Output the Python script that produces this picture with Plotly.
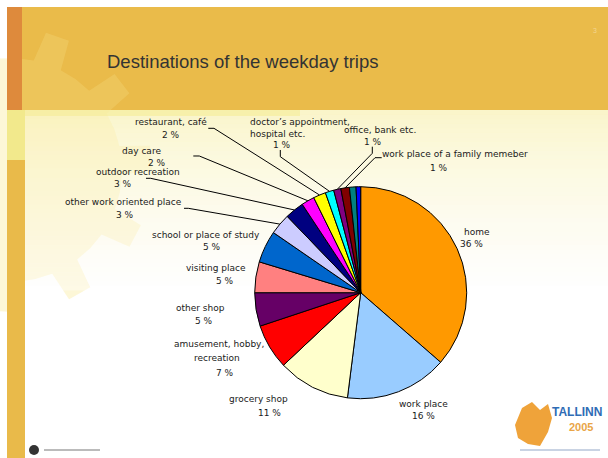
import numpy as np
import plotly.graph_objects as go

W, H = 608, 458

# ---------------- data ----------------
categories = [
    "home", "work place", "grocery shop", "amusement, hobby,\nrecreation",
    "other shop", "visiting place", "school or place of study",
    "other work oriented place", "outdoor recreation", "day care",
    "restaurant, café", "doctor’s appointment,\nhospital etc.",
    "office, bank etc.", "work place of a family memeber",
    "unlabelled a", "unlabelled b",
]
shares = [36.4, 15.6, 11.0, 6.9, 5.1, 4.7, 4.9, 3.2, 2.9, 2.0, 1.9, 1.3, 1.1, 1.3, 1.0, 0.7]
show_label = [True] * 14 + [False, False]
colors = ["#FF9900", "#99CCFF", "#FFFFCC", "#FF0000", "#660066", "#FF8080",
          "#0066CC", "#CCCCFF", "#000080", "#FF00FF", "#FFFF00", "#00FFFF",
          "#800080", "#800000", "#008080", "#0000FF"]
title = "Destinations of the weekday trips"

# ---------------- layout helpers ----------------
def P(x, y):
    return x / W, 1 - y / H

CX, CY, R = 360.7, 292.7, 106.0

total = sum(shares)
pct_text = [f"{round(v / total * 100)} %" for v in shares]

# label line positions: per category, list of (x, y, anchor) for name lines then pct line
label_pos = {
    0: [(477, 231.7, "center"), (471.7, 244, "center")],
    1: [(424, 404, "center"), (424, 416, "center")],
    2: [(258.7, 399.3, "center"), (269, 412.7, "center")],
    3: [(219, 344, "center"), (217, 358, "center"), (225, 372.5, "center")],
    4: [(200, 307.7, "center"), (204, 320.7, "center")],
    5: [(216, 268.3, "center"), (225, 280.5, "center")],
    6: [(206, 235, "center"), (212, 247, "center")],
    7: [(123.7, 202.3, "center"), (125, 214.5, "center")],
    8: [(138, 172.3, "center"), (122.5, 184, "center")],
    9: [(141, 150.7, "center"), (157, 162.5, "center")],
    10: [(171, 122, "center"), (171, 134.5, "center")],
    11: [(248.3, 122.3, "left"), (248.3, 134.3, "left"), (282, 144.8, "center")],
    12: [(380, 130, "center"), (373, 142.5, "center")],
    13: [(455, 154.3, "center"), (439, 167.5, "center")],
}
# leader line start/elbow points (label side)
leader_pts = {
    10: [(208.3, 128.3), (214, 128.3)],
    9: [(193.3, 156), (199.3, 156)],
    8: [(146, 178.3), (150.7, 178.3)],
    7: [(184, 208.3), (188.3, 208.3)],
    11: [(280.3, 150), (280.3, 156.7)],
    12: [(372.3, 146.7), (372.3, 153.3)],
    13: [(381.7, 157.7), (375, 157.7)],
}

fig = go.Figure()
fig.add_trace(go.Pie(
    labels=[c.replace("\n", " ") for c in categories],
    values=shares,
    sort=False,
    direction="clockwise",
    rotation=0,
    marker=dict(colors=colors, line=dict(color="#000000", width=1)),
    textinfo="none",
    hoverinfo="label+percent",
    showlegend=False,
    domain=dict(x=[(CX - R) / W, (CX + R) / W], y=[1 - (CY + R) / H, 1 - (CY - R) / H]),
))

shapes = []
# ---------------- background ----------------
def rect(x0, y0, x1, y1, color, layer="below"):
    a0 = P(x0, y1); a1 = P(x1, y0)
    return dict(type="rect", xref="paper", yref="paper", x0=a0[0], y0=a0[1], x1=a1[0], y1=a1[1],
                fillcolor=color, line=dict(width=0), layer=layer)

# gear watermark geometry
gcx, gcy = 10, 170
pts = []
nteeth = 11
for k in range(nteeth):
    base = 2 * np.pi * k / nteeth + np.radians(19.6)
    half = np.pi / nteeth
    for a, rr in [(-half, 112), (-half * 0.45, 112), (-half * 0.3, 142), (half * 0.3, 142), (half * 0.45, 112), (half, 112)]:
        ang = base + a
        px, py = gcx + rr * np.sin(ang), gcy - rr * np.cos(ang)
        pts.append(P(px, py))
gear_path = "M " + " L ".join(f"{x:.5f},{y:.5f}" for x, y in pts) + " Z"

# body gradient
top_c = np.array([250, 244, 196]); bot_c = np.array([255, 255, 255])
n = 40
y0b, y1b = 110, 290
shapes.append(dict(type="path", xref="paper", yref="paper", path=gear_path,
                   fillcolor="rgba(250,238,170,0.25)", line=dict(width=0), layer="below"))
for i in range(n):
    t = i / (n - 1)
    c = top_c + (bot_c - top_c) * (t ** 0.7)
    ya = y0b + (y1b - y0b) * i / n
    yb = y0b + (y1b - y0b) * (i + 1) / n + 0.5
    shapes.append(rect(7, ya, W, yb, "rgba(%d,%d,%d,0.9)" % tuple(c.astype(int))))
shapes.append(rect(7, 110, 300, 116, "rgba(245,236,150,0.6)"))
# header
shapes.append(rect(7, 7, W, 110, "#EABB4A"))
shapes.append(dict(type="path", xref="paper", yref="paper", path=gear_path,
                   fillcolor="rgba(252,234,150,0.22)", line=dict(width=0), layer="below"))
# left stripes
shapes.append(rect(7, 7, 22, 110, "#DE8A3C"))
shapes.append(rect(7, 110, 25, 160, "#F2E98C"))
shapes.append(rect(7, 160, 25, H, "#E9BA4A"))

# bottom logos
shapes.append(dict(type="circle", xref="paper", yref="paper",
                   x0=P(29, 0)[0], x1=P(39, 0)[0], y0=P(0, 455)[1], y1=P(0, 445)[1],
                   fillcolor="#333333", line=dict(width=0), layer="below"))
shapes.append(rect(44, 449, 100, 451, "#BBBBBB"))
blob = [(515, 425), (522, 408), (532, 402), (540, 410), (548, 404), (552, 418), (548, 432), (540, 446), (528, 444), (518, 438)]
bp = "M " + " L ".join("%.5f,%.5f" % P(x, y) for x, y in blob) + " Z"
shapes.append(dict(type="path", xref="paper", yref="paper", path=bp,
                   fillcolor="#EFA33A", line=dict(width=0), layer="below"))
shapes.append(rect(520, 449, 600, 451, "#C9D3E3"))

# ---------------- leader lines ----------------
cum = 0.0
mids = []
for v in shares:
    mids.append((cum + v / 2) / total * 2 * np.pi)
    cum += v
for idx, pl in leader_pts.items():
    th = mids[idx]
    ex, ey = CX + R * np.sin(th), CY - R * np.cos(th)
    allp = pl + [(ex, ey)]
    path = "M " + " L ".join("%.5f,%.5f" % P(x, y) for x, y in allp)
    shapes.append(dict(type="path", xref="paper", yref="paper", path=path,
                       line=dict(color="#000000", width=1), layer="above"))

# ---------------- annotations ----------------
ann = []
lab_font = dict(family="DejaVu Sans", size=9, color="#1a1a1a")
for idx, cat in enumerate(categories):
    if not show_label[idx]:
        continue
    lines = cat.split("\n") + [pct_text[idx]]
    for line, (x, y, anc) in zip(lines, label_pos[idx]):
        ax, ay = P(x, y)
        ann.append(dict(x=ax, y=ay, xref="paper", yref="paper", text=line, showarrow=False,
                        xanchor=anc, yanchor="middle", font=lab_font))

tx, ty = P(105, 62)
ann.append(dict(x=tx, y=ty, xref="paper", yref="paper", text=title, showarrow=False,
                xanchor="left", yanchor="middle",
                font=dict(family="Liberation Sans, Arial", size=18.5, color="#333333")))
px3, py3 = P(595, 31)
ann.append(dict(x=px3, y=py3, xref="paper", yref="paper", text="3", showarrow=False,
                xanchor="center", yanchor="middle", font=dict(family="Liberation Sans", size=7, color="#F3D58F")))
lx, ly = P(604, 412)
ann.append(dict(x=lx, y=ly, xref="paper", yref="paper", text="<b>TALLINN</b>", showarrow=False,
                xanchor="right", yanchor="middle", font=dict(family="Liberation Sans", size=12, color="#2F6CB5")))
lx, ly = P(581, 427)
ann.append(dict(x=lx, y=ly, xref="paper", yref="paper", text="<b>2005</b>", showarrow=False,
                xanchor="center", yanchor="middle", font=dict(family="Liberation Sans", size=11, color="#E9A547")))

fig.update_layout(
    width=W, height=H,
    margin=dict(l=0, r=0, t=0, b=0),
    paper_bgcolor="#FFFFFF", plot_bgcolor="#FFFFFF",
    shapes=shapes, annotations=ann,
    showlegend=False,
)
fig.write_html("out.html")
